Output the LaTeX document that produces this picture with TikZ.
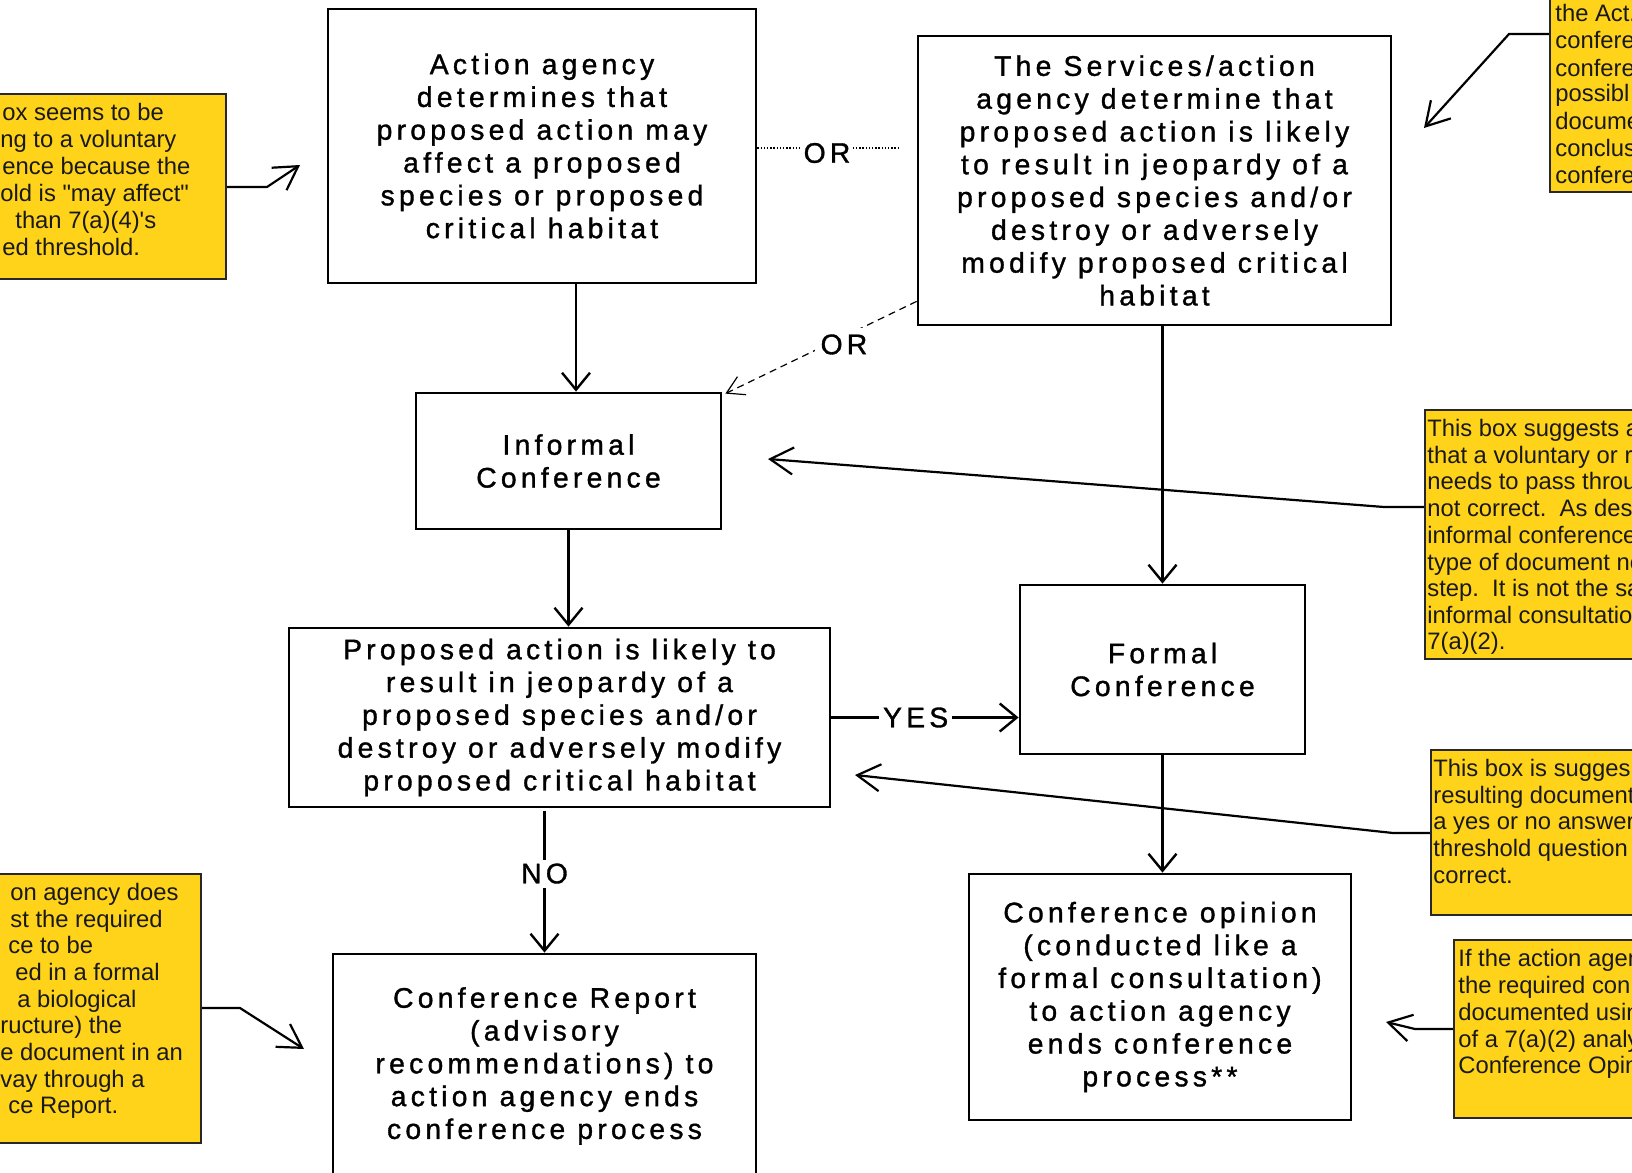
\documentclass[tikz,border=0pt]{standalone}
\usepackage{fontspec}
\setmainfont{Liberation Sans}
\newfontfamily\boxfont[LetterSpace=15,FakeBold=1.2]{Liberation Sans}
\newfontfamily\yfont[Ligatures=TeXOff]{Liberation Sans}
\usetikzlibrary{arrows.meta,calc}
\definecolor{yfill}{RGB}{255,211,25}
\definecolor{yborder}{RGB}{40,40,40}
\definecolor{ytext}{RGB}{25,25,25}
\begin{document}
\begin{tikzpicture}[x=0.5pt,y=-0.5pt,
 mainbox/.style={draw=black,line width=1.4pt,align=center,inner sep=0pt,font=\boxfont\fontsize{14.15pt}{16.4pt}\selectfont},
 ybox/.style={draw=yborder,fill=yfill,line width=1.2pt,inner sep=0pt},
 ytxt/.style={anchor=base west,inner sep=0pt,text=ytext,font=\yfont\fontsize{11.9pt}{13.4pt}\selectfont},
 lbl/.style={fill=white,inner sep=2pt,font=\boxfont\fontsize{14.15pt}{16.4pt}\selectfont},
 arr/.style={line width=1.2pt,-{Straight Barb[length=8.5pt,width=14pt]}},
 carr/.style={line width=1.1pt,-{Straight Barb[length=11.5pt,width=13.5pt]}},
 dashline/.style={line width=0.6pt,dash pattern=on 3.5pt off 2.5pt,-{Straight Barb[length=8.5pt,width=10pt]}},
 dotline/.style={line width=0.7pt,dash pattern=on 0.7pt off 0.9pt},
]
\useasboundingbox (0,0) rectangle (1632,1172);
\clip (0,0) rectangle (1632,1172);
\fill[white] (0,0) rectangle (1632,1172);

% main boxes
\node[mainbox,minimum width=214pt,minimum height=137pt] (A) at (542,146)
  {Action agency\\determines that\\proposed action may\\affect a proposed\\species or proposed\\critical habitat};
\node[mainbox,minimum width=236.5pt,minimum height=144.5pt] (B) at (1154.5,180.5)
  {The Services/action\\agency determine that\\proposed action is likely\\to result in jeopardy of a\\proposed species and/or\\destroy or adversely\\modify proposed critical\\habitat};
\node[mainbox,minimum width=152.5pt,minimum height=68pt] (Inf) at (568.5,461)
  {Informal\\Conference};
\node[mainbox,minimum width=270.5pt,minimum height=89.5pt] (C) at (559.5,717.5)
  {Proposed action is likely to\\result in jeopardy of a\\proposed species and/or\\destroy or adversely modify\\proposed critical habitat};
\node[mainbox,minimum width=142.5pt,minimum height=84.5pt] (F) at (1162.5,669.5)
  {Formal\\Conference};
\node[mainbox,minimum width=191pt,minimum height=123pt] (Op) at (1160,997)
  {Conference opinion\\(conducted like a\\formal consultation)\\to action agency\\ends conference\\process**};
\node[mainbox,minimum width=211.5pt,minimum height=112pt] (Rep) at (544.5,1066)
  {Conference Report\\(advisory\\recommendations) to\\action agency ends\\conference process};

% flow connectors
\coordinate (xA) at (576,0);
\draw[arr] (A.south -| xA) -- (Inf.north -| xA);
\draw[arr] (Inf.south) -- (Inf.south |- C.north);
\draw[arr] (F.north |- B.south) -- (F.north);
\draw[arr] (F.south) -- (F.south |- Op.north);
\draw[arr] (C.east) -- node[lbl,pos=0.45] (yes) {YES} (C.east -| F.west);
\draw[arr] ($(Rep.north |- C.south)+(0,3)$) -- node[lbl,pos=0.44] (no) {NO} (Rep.north);

% OR dotted
\node[lbl,inner sep=1pt] (or1) at (827,153) {OR};
\coordinate (or1end) at (899,148);
\draw[dotline] (A.east |- or1end) -- (or1end -| or1.west);
\draw[dotline] (or1end -| or1.east) -- (or1end);

% OR dashed
\draw[dashline] ($(B.south west)+(0,-25)$) -- node[lbl,pos=0.38,inner sep=3pt,yshift=-4pt] (or2) {OR} ($(Inf.north east)+(3,2)$);

% yellow boxes
\node[ybox,minimum width=118pt,minimum height=92.5pt] (YL1) at (108,186.5) {};
\node[ybox,minimum width=105.5pt,minimum height=134.5pt] (YL2) at (95.5,1008.5) {};
\node[ybox,minimum width=50pt,minimum height=101pt] (YR1) at (1600,91) {};
\node[ybox,minimum width=112.5pt,minimum height=124.5pt] (YR2) at (1537.5,534.5) {};
\node[ybox,minimum width=109.5pt,minimum height=82.5pt] (YR3) at (1540.5,832.5) {};
\node[ybox,minimum width=98pt,minimum height=89pt] (YR4) at (1552,1029) {};

% yellow texts
\foreach \t/\xx/\yy [count=\i] in {{ox seems to be}/2/120.5,{ng to a voluntary}/0/147.5,{ence because the}/2/174.5,{old is "may affect"}/0/201.5,{than 7(a)(4)'s}/15/228,{ed threshold.}/2/255}
  \node[ytxt] (yl1t\i) at (\xx,\yy) {\t};
\foreach \t/\xx/\yy [count=\i] in {{on agency does}/10/900.5,{st the required}/10/927.5,{ce to be}/8/953.5,{ed in a formal}/15/980.5,{a biological}/17/1007.5,{ructure) the}/0/1033.5,{e document in an}/0/1060.5,{vay through a}/0/1087.5,{ce Report.}/8/1113.5}
  \node[ytxt] (yl2t\i) at (\xx,\yy) {\t};
\foreach \t/\yy [count=\i] in {{the Act.}/22,{confere}/49,{confere}/76,{possibl}/102,{docume}/129,{conclus}/156,{confere}/183}
  \node[ytxt] (yr1t\i) at (1555,\yy) {\t};
\foreach \t/\yy [count=\i] in {{This box suggests a}/436.5,{that a voluntary or r}/463.5,{needs to pass throu}/489.5,{not correct.\ \ As des}/516.5,{informal conference}/543.5,{type of document ne}/570.5,{step.\ \ It is not the sa}/596.5,{informal consultatio}/623.5,{7(a)(2).}/649.5}
  \node[ytxt] (yr2t\i) at (1427,\yy) {\t};
\foreach \t/\yy [count=\i] in {{This box is sugges}/776.5,{resulting document}/803.5,{a yes or no answer}/829.5,{threshold question}/856.5,{correct.}/883.5}
  \node[ytxt] (yr3t\i) at (1433,\yy) {\t};
\foreach \t/\yy [count=\i] in {{If the action agen}/966,{the required con}/993,{documented usin}/1020,{of a 7(a)(2) analy}/1047,{Conference Opin}/1073}
  \node[ytxt] (yr4t\i) at (1458,\yy) {\t};

% callout connectors
\coordinate (c1a) at (267,187); \coordinate (c1t) at (300,165);
\draw[carr] (c1a -| YL1.east) -- (c1a) -- (c1t);
\coordinate (c2a) at (1509,34); \coordinate (c2t) at (1424,128);
\draw[carr] (c2a -| YR1.west) -- (c2a) -- (c2t);
\coordinate (c3a) at (1384,507); \coordinate (c3t) at (768,459);
\draw[carr] (c3a -| YR2.west) -- (c3a) -- (c3t);
\coordinate (c4a) at (1393,833); \coordinate (c4t) at (855,775);
\draw[carr] (c4a -| YR3.west) -- (c4a) -- (c4t);
\coordinate (c5a) at (1415,1029); \coordinate (c5t) at (1386,1022);
\draw[carr] (c5a -| YR4.west) -- (c5a) -- (c5t);
\coordinate (c6a) at (240,1008); \coordinate (c6t) at (304,1049);
\draw[carr] (c6a -| YL2.east) -- (c6a) -- (c6t);
\end{tikzpicture}
\end{document}
